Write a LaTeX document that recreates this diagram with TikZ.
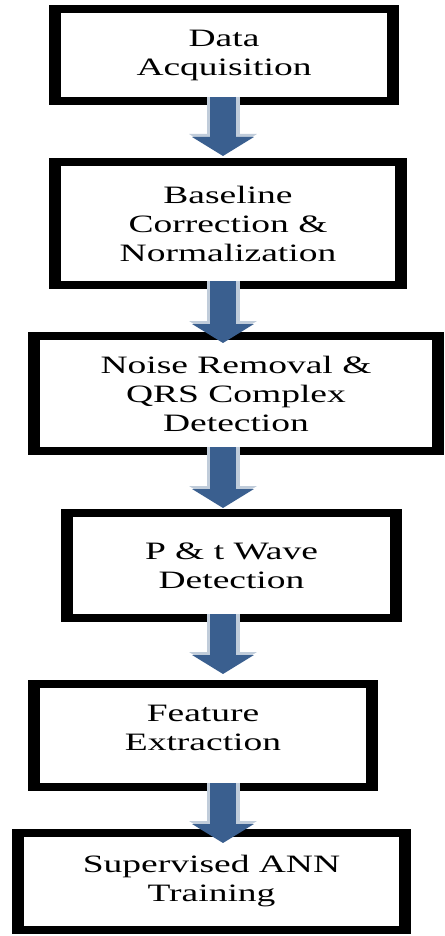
\documentclass[tikz,border=0pt]{standalone}
\usepackage{fontspec}
\setmainfont[FakeStretch=1.5]{Liberation Serif}
\usetikzlibrary{arrows.meta}

\definecolor{arrowblue}{RGB}{58,95,143}
\definecolor{arrowedge}{RGB}{192,204,218}

\tikzset{
  stagebox/.style={fill=black, inner sep=0pt, outer sep=0pt, align=center,
    font=\fontsize{25}{29}\selectfont,
    path picture={\fill[white] ([shift={(12pt,8pt)}]path picture bounding box.south west)
      rectangle ([shift={(-12pt,-8pt)}]path picture bounding box.north east);}},
  flowedge/.style={arrowedge, line width=33pt, -{Triangle[length=21pt,width=67pt]}},
  flowarrow/.style={arrowblue, line width=26pt, -{Triangle[length=19pt,width=61pt]}}
}

\begin{document}
\begin{tikzpicture}[x=1pt,y=-1pt]
        \useasboundingbox (0,0) rectangle (444,936);
        \fill[white] (0,0) rectangle (444,936);

        % Stages
        \node[stagebox, minimum width=350pt, minimum height=100pt] (acq) at (224,55) {Data\\Acquisition};
        \node[stagebox, minimum width=358pt, minimum height=131pt] (base) at (228,223.5) {Baseline\\Correction \&\\Normalization};
        \node[stagebox, minimum width=416pt, minimum height=123pt] (noise) at (236,393.5) {Noise Removal \&\\QRS Complex\\Detection};
        \node[stagebox, minimum width=341pt, minimum height=113pt] (pwave) at (231.5,565.5) {P \& t Wave\\Detection};
        \node[stagebox, minimum width=350pt, minimum height=111pt, text depth=16pt] (feat) at (203,735.5) {Feature\\Extraction};
        \node[stagebox, minimum width=399pt, minimum height=105pt] (ann) at (211.5,881.5) {Supervised ANN\\Training};

        % Arrows
        \coordinate (axis) at (223,0);
        \foreach \a/\b/\off in {acq/base/3, base/noise/-10, noise/pwave/2, pwave/feat/7, feat/ann/-13}{
          \draw[flowedge] ([yshift=8pt]\a.south -| axis) -- ([yshift=\off pt]\b.north -| axis);
          \draw[flowarrow] ([yshift=8pt]\a.south -| axis) -- ([yshift=\off pt - 1pt]\b.north -| axis);
        }

      \end{tikzpicture}
\end{document}
